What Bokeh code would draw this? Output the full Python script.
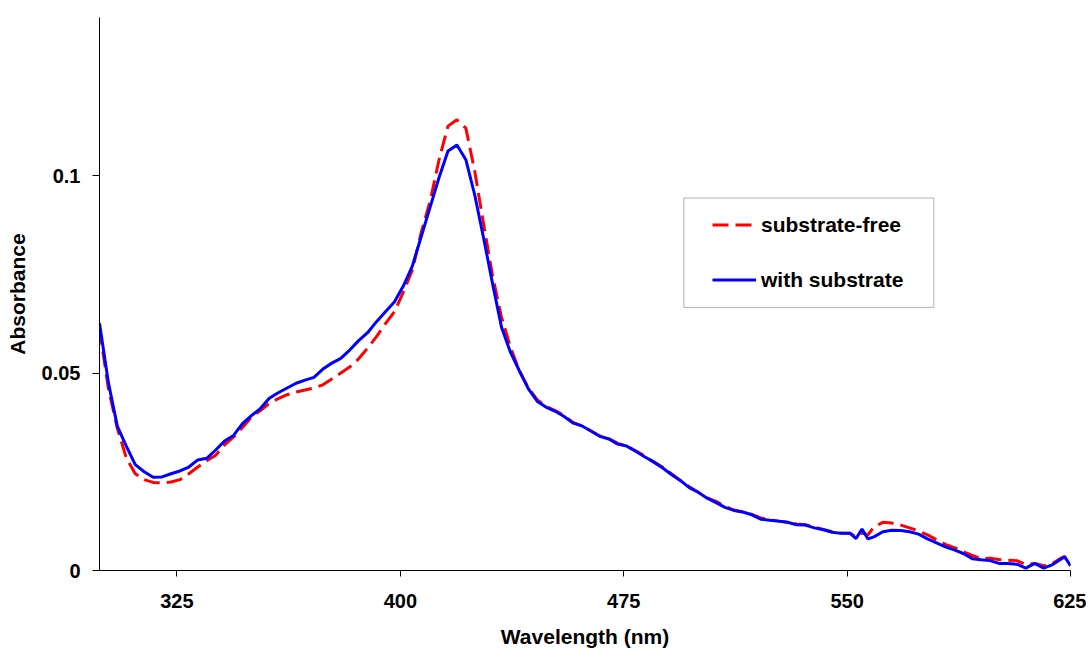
from bokeh.plotting import figure
from bokeh.models import Range1d, FixedTicker, Legend, LegendItem, BoxAnnotation
from bokeh.embed import file_html
from bokeh.resources import INLINE

# ---- data ----
wavelength = [299, 302, 305, 308, 311, 314, 317, 320, 323, 326, 329, 332, 335, 338, 341, 344,
              347, 350, 353, 356, 359, 362, 365, 368, 371, 374, 377, 380, 383, 386, 389, 392,
              395, 398, 401, 404, 407, 410, 413, 416, 419, 422, 425, 428, 431, 434, 437, 440,
              443, 446, 449, 452, 455, 458, 461, 464, 467, 470, 473, 476, 479, 482, 485, 488,
              491, 494, 497, 500, 503, 506, 509, 512, 515, 518, 521, 524, 527, 530, 533, 536,
              539, 542, 545, 548, 551, 553, 555, 557, 559, 562, 565, 568, 571, 574, 577, 580,
              583, 586, 589, 592, 595, 598, 601, 604, 607, 610, 613, 616, 619, 622, 623, 625]

with_substrate = [0.0626, 0.0475, 0.0365, 0.0315, 0.0268, 0.0250, 0.0236, 0.0237, 0.0245, 0.0252,
                  0.0262, 0.0280, 0.0284, 0.0305, 0.0328, 0.0342, 0.0372, 0.0392, 0.0410, 0.0436,
                  0.0450, 0.0462, 0.0474, 0.0482, 0.0489, 0.0510, 0.0525, 0.0537, 0.0558, 0.0582,
                  0.0602, 0.0630, 0.0655, 0.0680, 0.0720, 0.0770, 0.0845, 0.0920, 0.0995, 0.1062,
                  0.1077, 0.1040, 0.0950, 0.0840, 0.0725, 0.0615, 0.0552, 0.0505, 0.0460, 0.0428,
                  0.0413, 0.0403, 0.0390, 0.0373, 0.0366, 0.0353, 0.0340, 0.0333, 0.0320, 0.0315,
                  0.0302, 0.0288, 0.0275, 0.0260, 0.0243, 0.0228, 0.0210, 0.0198, 0.0183, 0.0172,
                  0.0160, 0.0152, 0.0148, 0.0141, 0.0130, 0.0127, 0.0125, 0.0122, 0.0116, 0.0115,
                  0.0108, 0.0103, 0.0097, 0.0094, 0.0094, 0.0081, 0.0105, 0.0080, 0.0085, 0.0098,
                  0.0102, 0.0101, 0.0098, 0.0092, 0.0080, 0.0070, 0.0060, 0.0052, 0.0043, 0.0030,
                  0.0027, 0.0025, 0.0018, 0.0018, 0.0016, 0.0006, 0.0018, 0.0006, 0.0015, 0.0030,
                  0.0035, 0.0012]

substrate_free = [0.0612, 0.0460, 0.0360, 0.0285, 0.0245, 0.0230, 0.0223, 0.0222, 0.0224, 0.0230,
                  0.0245, 0.0262, 0.0278, 0.0292, 0.0318, 0.0338, 0.0362, 0.0388, 0.0405, 0.0423,
                  0.0435, 0.0445, 0.0452, 0.0457, 0.0462, 0.0470, 0.0485, 0.0500, 0.0515, 0.0536,
                  0.0563, 0.0592, 0.0625, 0.0655, 0.0705, 0.0760, 0.0855, 0.0935, 0.1040, 0.1125,
                  0.1141, 0.1120, 0.1010, 0.0875, 0.0745, 0.0640, 0.0565, 0.0505, 0.0462, 0.0432,
                  0.0415, 0.0405, 0.0392, 0.0375, 0.0366, 0.0353, 0.0340, 0.0334, 0.0322, 0.0315,
                  0.0303, 0.0290, 0.0275, 0.0262, 0.0245, 0.0228, 0.0212, 0.0198, 0.0184, 0.0175,
                  0.0162, 0.0153, 0.0148, 0.0142, 0.0133, 0.0128, 0.0125, 0.0122, 0.0118, 0.0116,
                  0.0110, 0.0104, 0.0098, 0.0095, 0.0094, 0.0085, 0.0095, 0.0090, 0.0110, 0.0122,
                  0.0120, 0.0115, 0.0108, 0.0100, 0.0090, 0.0078, 0.0066, 0.0058, 0.0048, 0.0038,
                  0.0030, 0.0031, 0.0028, 0.0026, 0.0025, 0.0015, 0.0018, 0.0012, 0.0018, 0.0032,
                  0.0035, 0.0012]

x_ticks = [325, 400, 475, 550, 625]
y_ticks = [0, 0.05, 0.1]
y_tick_labels = {0: "0", 0.05: "0.05", 0.1: "0.1"}
series_names = ["substrate-free", "with substrate"]

FONT = "Liberation Sans"

p = figure(width=1086, height=650, output_backend="svg", toolbar_location=None,
           x_range=Range1d(299, 625), y_range=Range1d(0, 0.14),
           min_border_left=99, min_border_right=16, min_border_top=17, min_border_bottom=78)
p.outline_line_color = None
p.xgrid.visible = False
p.ygrid.visible = False
p.background_fill_color = "white"
p.border_fill_color = "white"

r_red = p.line(wavelength, substrate_free, line_color="#FF0000", line_width=3,
               line_dash="16 7")
r_blue = p.line(wavelength, with_substrate, line_color="#0000FF", line_width=3)

# axes
p.xaxis.ticker = FixedTicker(ticks=x_ticks)
p.yaxis.ticker = FixedTicker(ticks=y_ticks)
p.yaxis.major_label_overrides = y_tick_labels
for ax in (p.xaxis, p.yaxis):
    ax.minor_tick_line_color = None
    ax.major_tick_in = 0
    ax.axis_line_color = "black"
    ax.major_tick_line_color = "black"
    ax.major_label_text_font = FONT
    ax.major_label_text_font_style = "bold"
    ax.major_label_text_font_size = "20px"
    ax.major_label_text_color = "black"
    ax.axis_label_text_font = FONT
    ax.axis_label_text_font_style = "bold"
    ax.axis_label_text_font_size = "21px"
    ax.axis_label_text_color = "black"
p.xaxis.major_tick_out = 6
p.yaxis.major_tick_out = 7
p.xaxis.major_label_standoff = 17
p.yaxis.major_label_standoff = 12
p.xaxis.axis_label = "Wavelength (nm)"
p.yaxis.axis_label = "Absorbance"
p.xaxis.axis_label_standoff = 14
p.yaxis.axis_label_standoff = 10

# legend frame
box = BoxAnnotation(left=495.2, right=579.1, bottom=0.0666, top=0.0943,
                    fill_alpha=0, line_color="black", line_width=1)
p.add_layout(box)

legend = Legend(items=[LegendItem(label=series_names[0], renderers=[r_red]),
                       LegendItem(label=series_names[1], renderers=[r_blue])],
                location=(613, 278), padding=0, margin=0, spacing=30,
                glyph_width=44, glyph_height=25, label_height=25, label_standoff=5,
                border_line_color=None, background_fill_alpha=0,
                label_text_font=FONT, label_text_font_style="bold",
                label_text_font_size="21px", label_text_color="black")
p.add_layout(legend)

open("out.html", "w").write(file_html(p, INLINE))
